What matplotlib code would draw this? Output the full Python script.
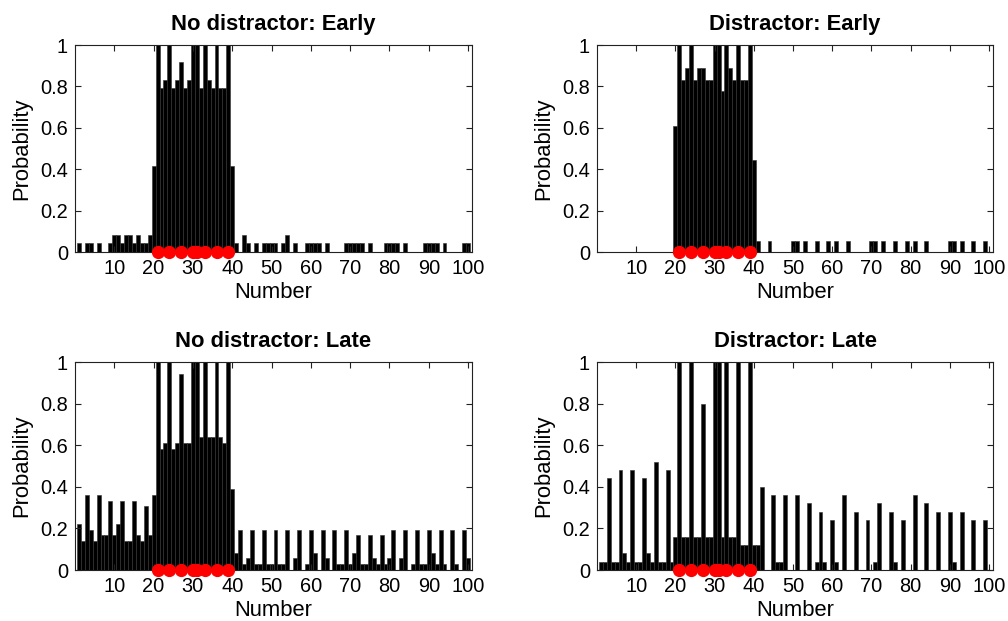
import matplotlib
matplotlib.use("Agg")
import matplotlib.pyplot as plt
import numpy as np

plt.rcParams['font.family'] = ['Liberation Sans', 'DejaVu Sans']

numbers = list(range(1, 101))
targets = [21, 24, 27, 30, 31, 33, 36, 39]

# counts (probability = count / total)
tl_total = 24
tl_counts = [1, 0, 1, 1, 0, 1, 0, 0, 1, 2, 2, 1, 2, 2, 1, 2, 1, 1, 2, 10,
             24, 19, 20, 24, 19, 20, 22, 19, 20, 24, 24, 19, 24, 20, 19, 24, 19, 19, 24, 10,
             1, 0, 2, 1, 0, 1, 0, 1, 1, 1, 1, 0, 1, 2, 0, 1, 0, 0, 1, 1,
             1, 1, 0, 1, 0, 0, 0, 0, 1, 1, 1, 1, 1, 0, 1, 0, 0, 0, 1, 1,
             1, 1, 0, 1, 0, 0, 0, 0, 1, 1, 1, 1, 0, 1, 0, 0, 0, 0, 1, 1]

tr_total = 18
tr_counts = [0, 0, 0, 0, 0, 0, 0, 0, 0, 0, 0, 0, 0, 0, 0, 0, 0, 0, 0, 11,
             18, 15, 16, 18, 15, 16, 16, 15, 15, 18, 18, 14, 18, 16, 15, 18, 15, 15, 18, 8,
             1, 0, 0, 1, 0, 0, 0, 0, 0, 1, 1, 0, 1, 0, 0, 1, 0, 0, 1, 0,
             1, 0, 0, 1, 0, 0, 0, 0, 0, 1, 1, 0, 1, 0, 0, 1, 0, 0, 1, 0,
             1, 0, 0, 1, 0, 0, 0, 0, 0, 1, 1, 0, 1, 0, 0, 1, 0, 0, 1, 0]

bl_total = 36
bl_counts = [8, 5, 13, 7, 5, 13, 6, 6, 12, 6, 8, 12, 5, 5, 12, 6, 5, 11, 6, 13,
             36, 21, 22, 36, 21, 22, 34, 22, 22, 36, 36, 23, 36, 23, 23, 36, 23, 22, 36, 14,
             3, 7, 1, 2, 7, 1, 1, 7, 1, 1, 7, 1, 1, 7, 0, 2, 7, 0, 1, 7,
             3, 0, 7, 2, 0, 7, 1, 1, 7, 1, 3, 6, 1, 1, 6, 2, 1, 6, 1, 2,
             7, 0, 2, 7, 0, 1, 7, 1, 1, 7, 3, 1, 7, 1, 0, 7, 1, 0, 7, 2]

br_total = 25
br_counts = [1, 1, 11, 1, 1, 12, 2, 1, 12, 1, 1, 11, 2, 1, 13, 1, 1, 12, 1, 4,
             25, 4, 4, 25, 4, 4, 20, 4, 4, 25, 25, 4, 25, 4, 4, 25, 3, 3, 25, 3,
             3, 10, 0, 0, 9, 1, 1, 9, 0, 0, 9, 0, 0, 8, 0, 1, 7, 1, 0, 6,
             1, 0, 9, 0, 0, 7, 0, 0, 6, 0, 1, 8, 0, 0, 7, 1, 0, 6, 0, 0,
             9, 0, 0, 8, 0, 0, 7, 0, 0, 7, 1, 0, 7, 0, 0, 6, 0, 0, 6, 0]

titles = ["No distractor: Early", "Distractor: Early",
          "No distractor: Late", "Distractor: Late"]
panels = [(tl_counts, tl_total), (tr_counts, tr_total),
          (bl_counts, bl_total), (br_counts, br_total)]

W, H = 1008, 621
fig = plt.figure(figsize=(W / 100, H / 100), dpi=100)

# axes rectangles in pixels: left, top, right, bottom
rects = [(75, 45, 472, 252), (597, 45, 993, 252),
         (75, 362, 472, 570), (597, 362, 993, 570)]

for (counts, total), title, (l, t, r, b) in zip(panels, titles, rects):
    ax = fig.add_axes([l / W, 1 - b / H, (r - l) / W, (b - t) / H])
    probs = np.array(counts) / total
    ax.bar(numbers, probs, width=1.0, color='black', edgecolor='#303030',
           linewidth=0.4)
    ax.plot(targets, np.zeros(len(targets)), 'o', color='red',
            markersize=8.5, clip_on=False, zorder=5)
    ax.set_xlim(0, 101)
    ax.set_ylim(0, 1)
    ax.set_xticks(range(10, 101, 10))
    ax.set_yticks([0, 0.2, 0.4, 0.6, 0.8, 1])
    ax.set_yticklabels(["0", "0.2", "0.4", "0.6", "0.8", "1"])
    ax.tick_params(direction='in', top=True, right=True, length=4,
                   width=0.8, labelsize=14.4, color='#222222', pad=5)
    for s in ax.spines.values():
        s.set_linewidth(0.8)
        s.set_color('#222222')
    ax.set_xlabel("Number", fontsize=15.8, labelpad=3)
    ax.set_ylabel("Probability", fontsize=15.8, labelpad=6)
    ax.set_title(title, fontsize=15.8, fontweight='bold', pad=11)

fig.savefig("out.png", dpi=100)
